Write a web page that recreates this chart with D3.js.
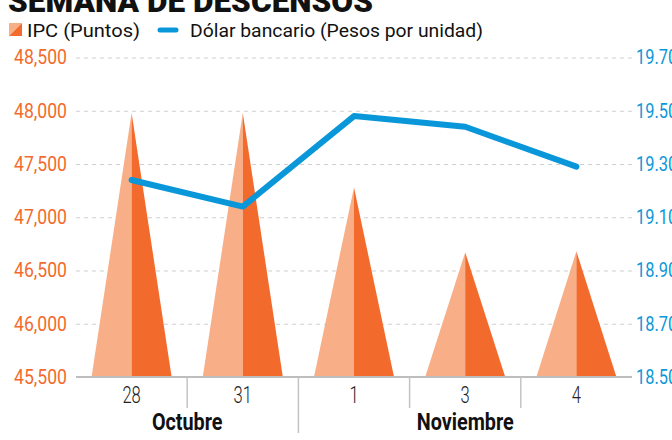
<!DOCTYPE html>
<html>
<head>
<meta charset="utf-8">
<script src="https://cdn.jsdelivr.net/npm/d3@7"></script>
<style>
  body { margin: 0; background: #fff; }
  svg { display: block; font-family: Roboto, "Noto Sans", sans-serif; }
</style>
</head>
<body>
<div id="chart"></div>
<script>
// datos
var dias = ["28", "31", "1", "3", "4"];
var meses = ["Octubre", "Octubre", "Noviembre", "Noviembre", "Noviembre"];
var ipc = [47980, 47980, 47280, 46670, 46680];
var dolar = [19.24, 19.14, 19.48, 19.44, 19.29];
var ipcTicks = [45500, 46000, 46500, 47000, 47500, 48000, 48500];
var dolarTicks = [18.5, 18.7, 18.9, 19.1, 19.3, 19.5, 19.7];

var W = 672, H = 440,
    x0 = 76, x1 = 632, yTop = 57.5, yBase = 377;

var naranja = "#f26a2c", naranjaClaro = "#f8ae86", azul = "#0a97d9";

// estrecha el texto (la fuente original es condensada)
function condensar(sel, f) {
  sel.each(function() {
    var w = this.getComputedTextLength();
    d3.select(this).attr("textLength", w * f).attr("lengthAdjust", "spacingAndGlyphs");
  });
}

var svg = d3.select("#chart").append("svg")
    .attr("width", W)
    .attr("height", H);

var x = d3.scaleBand().domain(dias).range([x0, x1]).padding(0);
var yL = d3.scaleLinear().domain([45500, 48500]).range([yBase, yTop]);
var yR = d3.scaleLinear().domain([18.5, 19.7]).range([yBase, yTop]);

// titulo (cortado arriba)
svg.append("text")
    .attr("x", 8)
    .attr("y", 12)
    .attr("font-size", 32)
    .attr("font-weight", 900)
    .attr("fill", "#111")
    .attr("textLength", 365)
    .attr("lengthAdjust", "spacingAndGlyphs")
    .text("SEMANA DE DESCENSOS");

// leyenda
var leg = svg.append("g");
leg.append("polygon").attr("points", "9,23 22,23 9,36").attr("fill", naranjaClaro);
leg.append("polygon").attr("points", "22,23 22,36 9,36").attr("fill", naranja);
leg.append("text")
    .attr("x", 27).attr("y", 37)
    .attr("font-size", 19).attr("fill", "#111")
    .attr("textLength", 113).attr("lengthAdjust", "spacingAndGlyphs")
    .text("IPC (Puntos)");
leg.append("line")
    .attr("x1", 160).attr("x2", 176).attr("y1", 30).attr("y2", 30)
    .attr("stroke", azul).attr("stroke-width", 5).attr("stroke-linecap", "round");
leg.append("text")
    .attr("x", 190).attr("y", 37)
    .attr("font-size", 19).attr("fill", "#111")
    .attr("textLength", 293).attr("lengthAdjust", "spacingAndGlyphs")
    .text("Dólar bancario (Pesos por unidad)");

// eje izquierdo + rejilla
var axL = svg.append("g")
    .attr("transform", "translate(" + x0 + ",0)")
    .call(d3.axisLeft(yL).tickValues(ipcTicks).tickSize(-(x1 - x0)).tickPadding(9)
      .tickFormat(d3.format(",")));
axL.select(".domain").remove();
axL.selectAll(".tick line")
    .attr("stroke", "#cfcfcf")
    .attr("stroke-width", 1.2)
    .attr("stroke-dasharray", "4,4");
axL.selectAll(".tick text")
    .attr("font-size", 20)
    .attr("fill", naranja)
    .attr("font-family", "Roboto")
    .call(condensar, 0.88);

// eje derecho
var axR = svg.append("g")
    .attr("transform", "translate(" + x1 + ",0)")
    .call(d3.axisRight(yR).tickValues(dolarTicks).tickSize(0).tickPadding(4)
      .tickFormat(d3.format(".2f")));
axR.select(".domain").remove();
axR.selectAll(".tick text")
    .attr("font-size", 20)
    .attr("fill", azul)
    .attr("font-family", "Roboto")
    .call(condensar, 0.82);

// triangulos IPC
var half = x.bandwidth() * 0.36;
var picos = svg.append("g").selectAll("g")
    .data(dias)
    .join("g");
picos.append("path")
    .attr("fill", naranjaClaro)
    .attr("d", function(d, i) {
      var cx = x(d) + x.bandwidth() / 2;
      return "M" + (cx - half) + "," + yL(45500) + "L" + cx + "," + yL(ipc[i]) + "L" + cx + "," + yL(45500) + "Z";
    });
picos.append("path")
    .attr("fill", naranja)
    .attr("d", function(d, i) {
      var cx = x(d) + x.bandwidth() / 2;
      return "M" + cx + "," + yL(45500) + "L" + cx + "," + yL(ipc[i]) + "L" + (cx + half) + "," + yL(45500) + "Z";
    });

// linea base
svg.append("line")
    .attr("x1", x0).attr("x2", x1)
    .attr("y1", yL(45500)).attr("y2", yL(45500))
    .attr("stroke", "#bdbdbd").attr("stroke-width", 2);

// eje inferior
var axB = svg.append("g")
    .attr("transform", "translate(0," + yBase + ")")
    .call(d3.axisBottom(x).tickSize(0).tickPadding(12));
axB.select(".domain").remove();
axB.selectAll(".tick text")
    .attr("font-size", 23)
    .attr("font-weight", 300)
    .attr("fill", "#222")
    .attr("font-family", "Roboto")
    .attr("dy", "0.6em")
    .call(condensar, 0.72);

// separadores
svg.append("g").selectAll("line")
    .data(dias.slice(1))
    .join("line")
    .attr("x1", function(d) { return x(d); })
    .attr("x2", function(d) { return x(d); })
    .attr("y1", yBase)
    .attr("y2", function(d) {
      var i = dias.indexOf(d);
      return meses[i] !== meses[i - 1] ? 433 : 408;
    })
    .attr("stroke", "#c4c4c4")
    .attr("stroke-width", 1.5);

// meses
var grupos = d3.groups(dias.map(function(d, i) { return {dia: d, mes: meses[i]}; }), function(d) { return d.mes; });
svg.append("g").selectAll("text")
    .data(grupos)
    .join("text")
    .attr("x", function(g) {
      var a = x(g[1][0].dia), b = x(g[1][g[1].length - 1].dia) + x.bandwidth();
      return (a + b) / 2;
    })
    .attr("y", 430)
    .attr("text-anchor", "middle")
    .attr("font-size", 23)
    .attr("font-weight", 700)
    .attr("fill", "#111")
    .text(function(g) { return g[0]; })
    .call(condensar, 0.86);

// linea del dolar
var line = d3.line()
    .x(function(d, i) { return x(dias[i]) + x.bandwidth() / 2; })
    .y(function(d) { return yR(d); });

svg.append("path")
    .datum(dolar)
    .attr("fill", "none")
    .attr("stroke", azul)
    .attr("stroke-width", 6)
    .attr("stroke-linejoin", "round")
    .attr("stroke-linecap", "round")
    .attr("d", line);
</script>
</body>
</html>
